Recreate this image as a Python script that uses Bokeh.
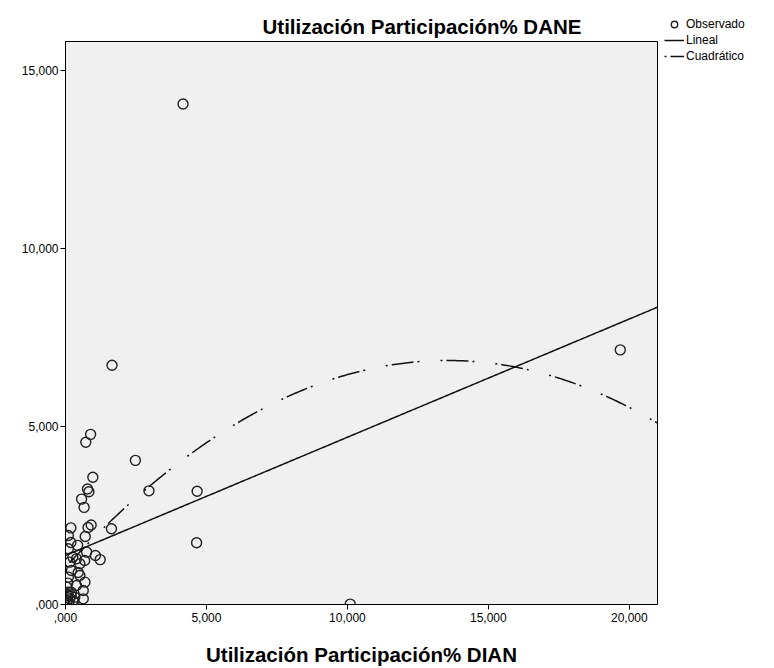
import numpy as np
from bokeh.plotting import figure
from bokeh.models import Range1d, Legend, LegendItem, FixedTicker, ColumnDataSource
from bokeh.embed import file_html
from bokeh.resources import INLINE

# ---- data (percent units; comma is the decimal separator in labels) ----
obs_x = [4.17, 1.65, 19.68, 10.10, 2.48, 2.96, 4.67, 4.65, 1.63,
         0.89, 0.72, 0.97, 0.78, 0.83, 0.57, 0.66, 0.19, 0.91, 0.80,
         0.70, 0.19, 0.43, 1.06, 1.23, 0.75, 0.26, 0.68, 0.10, 0.10,
         0.39, 0.15, 0.51, 0.21, 0.51, 0.10, 0.69, 0.39, 0.04, 0.63,
         0.21, 0.10, 0.10, 0.63, 0.33, 0.15, 0.04, 0.27, 0.05, 0.12,
         0.20, 0.03, 0.30, 0.45, 0.08]
obs_y = [14.045, 6.714, 7.146, 0.010, 4.045, 3.190, 3.180, 1.733, 2.126,
         4.775, 4.555, 3.570, 3.240, 3.165, 2.958, 2.725, 2.150, 2.230, 2.160,
         1.910, 1.740, 1.660, 1.376, 1.260, 1.470, 1.330, 1.236, 1.938, 1.565,
         1.283, 1.189, 1.142, 0.955, 0.815, 0.768, 0.627, 0.534, 0.487, 0.393,
         0.346, 0.346, 0.253, 0.159, 0.206, 0.159, 0.112, 0.112, 0.200, 0.050,
         0.250, 0.300, 0.060, 0.900, 0.600]

# fitted models
lin_intercept, lin_slope = 1.376, 0.3318
quad_c0, quad_c1, quad_c2 = 1.048, 0.8565, -0.03162

x_ticks = [0, 5, 10, 15, 20]
x_tick_labels = [",000", "5,000", "10,000", "15,000", "20,000"]
y_ticks = [0, 5, 10, 15]
y_tick_labels = [",000", "5,000", "10,000", "15,000"]

x_min, x_max = 0.0, 21.0
y_min, y_max = 0.0, 15.8

title_text = "Utilización Participación% DANE"
x_title = "Utilización Participación% DIAN"
legend_labels = ["Observado", "Lineal", "Cuadrático"]

FONT = "Liberation Sans"

p = figure(frame_width=592, frame_height=563,
           x_range=Range1d(x_min, x_max), y_range=Range1d(y_min, y_max),
           output_backend="svg", toolbar_location=None,
           min_border_left=65, min_border_right=109,
           min_border_top=41, min_border_bottom=62,
           background_fill_color="#F0F0F0", border_fill_color="white",
           outline_line_color="black", outline_line_width=1)

p.grid.visible = False

p.title.text = title_text
p.title.align = "left"
p.title.offset = 197
p.title.text_font = FONT
p.title.text_font_size = "20.5px"
p.title.text_font_style = "bold"
p.title.text_color = "black"
p.title.standoff = 8

for ax in (p.xaxis[0], p.yaxis[0]):
    ax.axis_line_color = "black"
    ax.major_tick_line_color = "black"
    ax.major_tick_out = 5
    ax.major_tick_in = 0
    ax.minor_tick_line_color = None
    ax.major_label_text_font = FONT
    ax.major_label_text_font_size = "12px"
    ax.major_label_text_color = "black"

p.xaxis.ticker = FixedTicker(ticks=x_ticks)
p.xaxis.major_label_overrides = {t: l for t, l in zip(x_ticks, x_tick_labels)}
p.yaxis.ticker = FixedTicker(ticks=y_ticks)
p.yaxis.major_label_overrides = {t: l for t, l in zip(y_ticks, y_tick_labels)}
p.xaxis.major_label_standoff = 3
p.yaxis.major_label_standoff = 2

p.xaxis.axis_label = x_title
p.xaxis.axis_label_text_font = FONT
p.xaxis.axis_label_text_font_size = "20.5px"
p.xaxis.axis_label_text_font_style = "bold"
p.xaxis.axis_label_text_color = "black"
p.xaxis.axis_label_standoff = 18

src = ColumnDataSource(dict(x=obs_x, y=obs_y))
r_obs = p.scatter("x", "y", source=src, marker="circle", size=10,
                  fill_color=None, line_color="#222222", line_width=1.4)

xs = np.linspace(x_min, x_max, 300)
r_lin = p.line(xs, lin_intercept + lin_slope * xs, line_color="#111111", line_width=1.5)
r_quad = p.line(xs, quad_c0 + quad_c1 * xs + quad_c2 * xs ** 2,
                line_color="#111111", line_width=1.5, line_dash="2 4 22 4 2 21")

legend = Legend(items=[LegendItem(label=legend_labels[0], renderers=[r_obs]),
                       LegendItem(label=legend_labels[1], renderers=[r_lin]),
                       LegendItem(label=legend_labels[2], renderers=[r_quad])],
                location=(7, 540), orientation="vertical",
                border_line_color=None, background_fill_alpha=0,
                padding=0, margin=0, spacing=0,
                label_height=16, glyph_height=16, glyph_width=20,
                label_standoff=2, label_text_font=FONT,
                label_text_font_size="12px", label_text_color="black")
p.add_layout(legend, "right")

open("out.html", "w").write(file_html(p, INLINE))
